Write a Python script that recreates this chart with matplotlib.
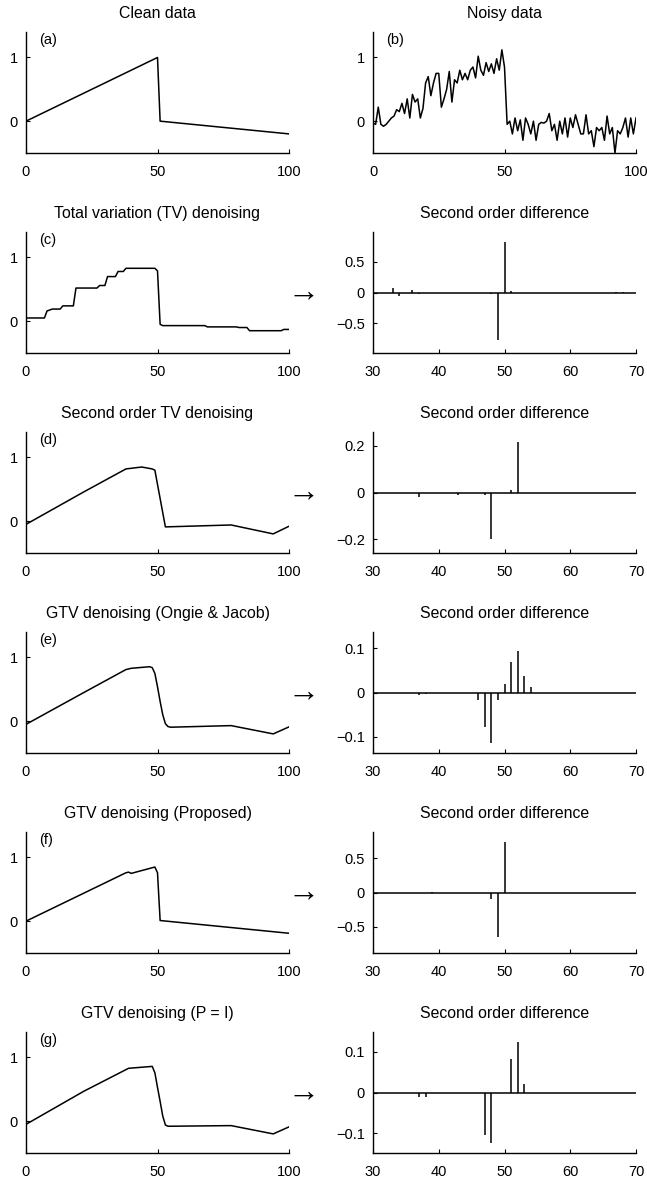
"""Denoising comparison: six signals on the left, noisy input and
second order differences on the right."""

import matplotlib

matplotlib.use("Agg")

import matplotlib.pyplot as plt

plt.rcParams["font.family"] = ["Liberation Sans", "DejaVu Sans"]
plt.rcParams["font.size"] = 10

# ---- left column signals (vertices of piecewise-linear curves) ----
clean_x = [0, 50, 51, 100]
clean_y = [0.0, 1.0, 0.0, -0.2]

tv_x = [0, 7, 8, 10, 13, 14, 18, 19, 27, 28, 30, 31, 34, 35, 37, 38, 49, 50, 51,
        52, 68, 69, 80, 81, 84, 85, 97, 98, 100]
tv_y = [0.05, 0.05, 0.16, 0.19, 0.19, 0.24, 0.24, 0.52, 0.52, 0.56, 0.56, 0.70,
        0.70, 0.78, 0.78, 0.83, 0.83, 0.79, -0.05, -0.07, -0.07, -0.09, -0.09,
        -0.10, -0.10, -0.15, -0.15, -0.13, -0.13]

tv2_x = [0, 22, 38, 44, 48, 49, 53, 78, 94, 100]
tv2_y = [-0.05, 0.46, 0.82, 0.85, 0.82, 0.80, -0.09, -0.06, -0.20, -0.08]

ongie_x = [0, 22, 38, 40, 47, 48, 49, 50, 51, 52, 53, 54, 55, 78, 94, 100]
ongie_y = [-0.05, 0.45, 0.81, 0.83, 0.855, 0.84, 0.75, 0.54, 0.31, 0.10,
           -0.04, -0.085, -0.095, -0.07, -0.20, -0.09]

prop_x = [0, 18, 38, 39, 40, 49, 50, 51, 100]
prop_y = [0.0, 0.36, 0.76, 0.77, 0.75, 0.85, 0.76, 0.01, -0.19]

pi_x = [0, 22, 39, 48, 49, 50, 51, 52, 53, 54, 78, 94, 100]
pi_y = [-0.05, 0.47, 0.83, 0.86, 0.76, 0.53, 0.31, 0.08, -0.06, -0.08, -0.07,
        -0.20, -0.09]

noisy_y = [
    -0.03, -0.05, 0.22, -0.05, -0.08, -0.05, 0.00, 0.05, 0.08, 0.18,
    0.15, 0.28, 0.12, 0.35, 0.05, 0.42, 0.30, 0.35, 0.05, 0.20,
    0.60, 0.70, 0.40, 0.60, 0.75, 0.75, 0.22, 0.35, 0.50, 0.78,
    0.30, 0.65, 0.60, 0.80, 0.65, 0.75, 0.65, 0.80, 0.85, 0.68,
    1.02, 0.80, 0.72, 0.92, 0.78, 0.90, 0.75, 0.98, 0.80, 1.12,
    0.85, -0.05, 0.00, -0.20, 0.05, -0.15, 0.02, -0.30, 0.05, -0.05,
    -0.20, 0.00, -0.30, -0.05, -0.02, -0.03, 0.00, 0.12, -0.15, -0.05,
    -0.30, 0.00, -0.20, 0.05, -0.25, 0.05, -0.10, 0.10, -0.05, -0.20,
    -0.20, 0.10, -0.20, -0.15, -0.40, -0.10, -0.15, -0.10, -0.30, 0.08,
    -0.20, -0.10, -0.50, -0.15, -0.20, -0.10, 0.05, -0.25, 0.05, -0.20,
    0.05,
]
noisy_x = list(range(len(noisy_y)))

# ---- second order differences (nonzero stems only) ----
d2_tv_n = [33, 34, 36, 37, 48, 49, 50, 51, 67, 68]
d2_tv_v = [0.07, -0.06, 0.04, -0.03, -0.03, -0.78, 0.82, 0.02, 0.01, 0.01]

d2_tv2_n = [37, 43, 47, 48, 51, 52]
d2_tv2_v = [-0.02, -0.01, -0.01, -0.20, 0.01, 0.215]

d2_ongie_n = [37, 38, 46, 47, 48, 49, 50, 51, 52, 53, 54]
d2_ongie_v = [-0.006, -0.004, -0.017, -0.078, -0.114, -0.016, 0.019, 0.069,
              0.094, 0.037, 0.012]

d2_prop_n = [38, 39, 48, 49, 50]
d2_prop_v = [-0.01, 0.01, -0.10, -0.65, 0.74]

d2_pi_n = [37, 38, 47, 48, 51, 52, 53]
d2_pi_v = [-0.01, -0.01, -0.104, -0.124, 0.083, 0.124, 0.021]

left_titles = [
    "Clean data",
    "Total variation (TV) denoising",
    "Second order TV denoising",
    "GTV denoising (Ongie & Jacob)",
    "GTV denoising (Proposed)",
    "GTV denoising (P = I)",
]
panel_labels = ["(a)", "(c)", "(d)", "(e)", "(f)", "(g)"]
left_series = [(clean_x, clean_y), (tv_x, tv_y), (tv2_x, tv2_y),
               (ongie_x, ongie_y), (prop_x, prop_y), (pi_x, pi_y)]
stem_series = [(d2_tv_n, d2_tv_v), (d2_tv2_n, d2_tv2_v),
               (d2_ongie_n, d2_ongie_v), (d2_prop_n, d2_prop_v),
               (d2_pi_n, d2_pi_v)]
stem_ticks = [[-0.5, 0, 0.5], [-0.2, 0, 0.2], [-0.1, 0, 0.1],
              [-0.5, 0, 0.5], [-0.1, 0, 0.1]]

TITLE_SIZE = 11.4
W, H = 647, 1180
fig = plt.figure(figsize=(W / 100, H / 100), dpi=100)

ROW_TOPS = [32, 232, 432, 632, 832, 1032]
AX_H = 121
LEFT_X, RIGHT_X, AX_W = 26, 373, 263


def _axes(x0, top):
    ax = fig.add_axes([x0 / W, 1 - (top + AX_H) / H, AX_W / W, AX_H / H])
    for side in ("top", "right"):
        ax.spines[side].set_visible(False)
    for side in ("left", "bottom"):
        ax.spines[side].set_linewidth(1.0)
    ax.tick_params(direction="in", length=3, width=0.8, labelsize=10.5)
    ax.tick_params(axis="x", pad=9)
    ax.tick_params(axis="y", pad=6)
    return ax


def _signal_axes(ax):
    ax.set_xlim(0, 100)
    ax.set_ylim(-0.5, 1.4)
    ax.set_xticks([0, 50, 100])
    ax.set_yticks([0, 1])


for row, top in enumerate(ROW_TOPS):
    ax = _axes(LEFT_X, top)
    xs, ys = left_series[row]
    ax.plot(xs, ys, color="black", linewidth=1.1)
    _signal_axes(ax)
    ax.set_title(left_titles[row], pad=10, fontsize=TITLE_SIZE)
    ax.text(5, 1.38, panel_labels[row], ha="left", va="top", fontsize=10.5)
    if row > 0:
        ax.text(0.995, 0.5, "\u2192", transform=ax.transAxes, ha="left",
                va="center", fontsize=23)

    rx = _axes(RIGHT_X, top)
    if row == 0:
        rx.plot(noisy_x, noisy_y, color="black", linewidth=1.1)
        _signal_axes(rx)
        rx.set_title("Noisy data", pad=10, fontsize=TITLE_SIZE)
        rx.text(5, 1.38, "(b)", ha="left", va="top", fontsize=10.5)
    else:
        n, v = stem_series[row - 1]
        lim = 1.2 * max(abs(val) for val in v)
        rx.axhline(0, color="black", linewidth=1.1)
        rx.vlines(n, 0, v, color="black", linewidth=1.1)
        rx.set_xlim(30, 70)
        rx.set_ylim(-lim, lim)
        rx.set_xticks([30, 40, 50, 60, 70])
        rx.set_yticks(stem_ticks[row - 1])
        rx.set_yticklabels([f"{t:g}".replace("-", "\u2212") for t in stem_ticks[row - 1]])
        rx.set_title("Second order difference", pad=10, fontsize=TITLE_SIZE)

fig.savefig("out.png", dpi=100)
